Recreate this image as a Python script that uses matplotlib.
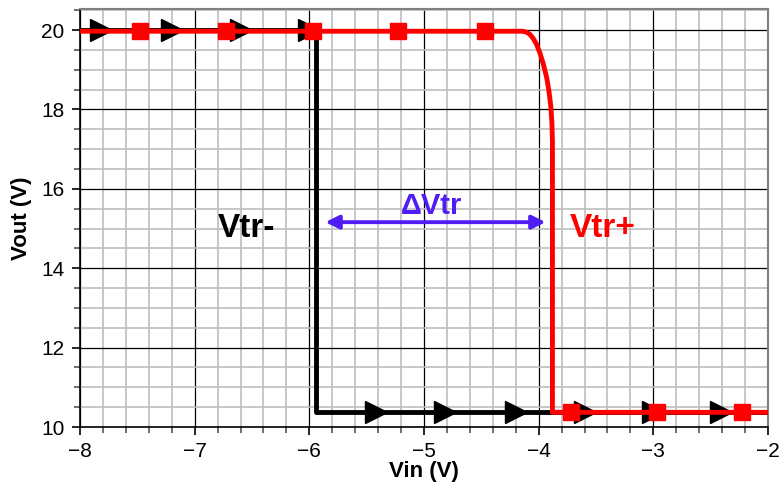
import matplotlib
matplotlib.use("Agg")
import matplotlib.pyplot as plt
from matplotlib.ticker import MultipleLocator

plt.rcParams['font.family'] = ['Liberation Sans', 'DejaVu Sans']

# sweep up (black): Vin increasing
vin_up = [-8.0, -5.94, -5.94, -2.0]
vout_up = [20.0, 20.0, 10.37, 10.37]
up_marker_x = [-7.82, -7.2, -6.6, -6.0, -5.42, -4.82, -4.2, -3.6, -3.0, -2.41]
up_marker_y = [20.0, 20.0, 20.0, 20.0, 10.37, 10.37, 10.37, 10.37, 10.37, 10.37]

# sweep down (red): Vin decreasing
vin_down = [-8.0, -4.14, -4.11, -4.08, -4.05, -4.02, -3.99, -3.96, -3.93, -3.91,
            -3.895, -3.885, -3.88, -3.88, -2.0]
vout_down = [19.97, 19.97, 19.95, 19.9, 19.8, 19.65, 19.43, 19.15, 18.8, 18.45,
             18.1, 17.7, 17.2, 10.37, 10.37]
down_marker_x = [-7.48, -6.73, -5.97, -5.23, -4.47, -3.72, -2.97, -2.23]
down_marker_y = [19.97, 19.97, 19.97, 19.97, 19.97, 10.37, 10.37, 10.37]

vtr_minus = -5.86
vtr_plus = -3.94
arrow_y = 15.16

fig = plt.figure(figsize=(7.79, 4.87), dpi=100)
ax = fig.add_axes([0.1027, 0.1232, 0.8832, 0.8583])

ax.plot(vin_up, vout_up, color='black', lw=3.5, zorder=3)
ax.plot(up_marker_x, up_marker_y, linestyle='none', marker='>', color='black',
        markersize=16.5, zorder=3)
ax.plot(vin_down, vout_down, color='#ff0000', lw=3.5, zorder=4, solid_joinstyle='round')
ax.plot(down_marker_x, down_marker_y, linestyle='none', marker='s', color='#ff0000',
        markersize=11, zorder=5)

ax.annotate('', xy=(vtr_minus, arrow_y), xytext=(vtr_plus, arrow_y),
            arrowprops=dict(arrowstyle='<|-|>', color='#4f1cf5', lw=2.8,
                            mutation_scale=20, shrinkA=0, shrinkB=0), zorder=6)
ax.text(-4.93, 15.56, '\u0394Vtr', color='#4f1cf5', fontsize=21, fontweight='bold',
        ha='center', va='center', zorder=6)
ax.text(-6.55, 14.99, 'Vtr-', color='black', fontsize=24, fontweight='bold',
        ha='center', va='center', zorder=6)
ax.text(-3.44, 14.99, 'Vtr+', color='#ff0000', fontsize=24, fontweight='bold',
        ha='center', va='center', zorder=6)

ax.set_xlim(-8, -2)
ax.set_ylim(10, 20.53)
ax.xaxis.set_major_locator(MultipleLocator(1))
ax.xaxis.set_minor_locator(MultipleLocator(0.2))
ax.yaxis.set_major_locator(MultipleLocator(2))
ax.yaxis.set_minor_locator(MultipleLocator(0.5))

ax.grid(which='minor', color='#bdbdbd', lw=1.2, zorder=0)
ax.grid(which='major', color='black', lw=0.9, zorder=1)
ax.set_axisbelow(True)

ax.tick_params(which='major', direction='out', length=6, width=1.2, labelsize=15, pad=5)
ax.tick_params(which='minor', direction='out', length=4, width=1.2, color='#555555')

for side in ['left', 'bottom']:
    ax.spines[side].set_color('black')
    ax.spines[side].set_linewidth(1.2)
for side in ['top', 'right']:
    ax.spines[side].set_color('#808080')
    ax.spines[side].set_linewidth(1.5)

ax.set_xlabel('Vin (V)', fontsize=16, fontweight='bold', labelpad=0)
ax.set_ylabel('Vout (V)', fontsize=16, fontweight='bold', labelpad=7)

fig.savefig('out.png', dpi=100)
